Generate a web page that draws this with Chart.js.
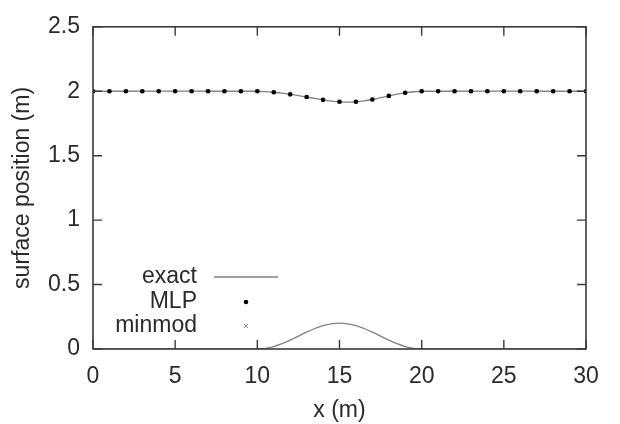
<!DOCTYPE html>
<html>
<head>
<meta charset="utf-8">
<script src="https://cdn.jsdelivr.net/npm/chart.js@4.4.1/dist/chart.umd.min.js"></script>
<style>
  html, body { margin: 0; padding: 0; background: #fff; }
  canvas { display: block; }
</style>
</head>
<body>
<canvas id="surfaceChart" width="620" height="424"></canvas>
<script>
'use strict'

// exact free surface (m)
const exactX = [0, 10, 10.5, 11, 11.5, 12, 12.5, 13, 13.5, 14, 14.5, 15, 15.5, 16, 16.5, 17, 17.5, 18, 18.5, 19, 19.5, 20, 30]
const exactY = [2.0, 2.0, 1.997, 1.992, 1.985, 1.976, 1.966, 1.955, 1.944, 1.933, 1.924, 1.918, 1.916, 1.918, 1.925, 1.936, 1.95, 1.964, 1.977, 1.988, 1.996, 2.0, 2.0]

// bed bump (m)
const bedX = [0, 10, 10.5, 11, 11.5, 12, 12.5, 13, 13.5, 14, 14.5, 15, 15.5, 16, 16.5, 17, 17.5, 18, 18.5, 19, 19.5, 20, 30]
const bedY = [0, 0, 0.005, 0.019, 0.041, 0.069, 0.1, 0.131, 0.159, 0.181, 0.195, 0.2, 0.195, 0.181, 0.159, 0.131, 0.1, 0.069, 0.041, 0.019, 0.005, 0, 0]

// computed results at cell centres
const cellX = [0, 1, 2, 3, 4, 5, 6, 7, 8, 9, 10, 11, 12, 13, 14, 15, 16, 17, 18, 19, 20, 21, 22, 23, 24, 25, 26, 27, 28, 29, 30]
const mlpY = [2, 2, 2, 2, 2, 2, 2, 2, 2, 2, 2.0, 1.992, 1.976, 1.955, 1.933, 1.918, 1.918, 1.936, 1.964, 1.988, 2.0, 2, 2, 2, 2, 2, 2, 2, 2, 2, 2]
const minmodY = [2, 2, 2, 2, 2, 2, 2, 2, 2, 2, 2.0, 1.992, 1.976, 1.955, 1.933, 1.918, 1.918, 1.936, 1.964, 1.988, 2.0, 2, 2, 2, 2, 2, 2, 2, 2, 2, 2]

const xTicks = [0, 5, 10, 15, 20, 25, 30]
const yTicks = [0, 0.5, 1, 1.5, 2, 2.5]

const legendItems = ['exact', 'MLP', 'minmod']

const FONT = '"Liberation Sans", Arial, sans-serif'
const TEXT = '#2a2a2a'
const LINE = '#808080'

const pts = (xs, ys) => xs.map((x, i) => ({x: x, y: ys[i]}))

// gnuplot style frame with inward (mirrored) ticks
const framePlugin = {
    id: 'frame',
    afterDatasetsDraw(chart) {
        const {ctx, chartArea: a, scales} = chart
        const len = 9
        ctx.save()
        ctx.strokeStyle = '#3a3a3a'
        ctx.lineWidth = 1.6
        ctx.strokeRect(a.left, a.top, a.right - a.left, a.bottom - a.top)
        ctx.lineWidth = 1.4
        ctx.beginPath()
        xTicks.forEach(v => {
            const px = scales.x.getPixelForValue(v)
            ctx.moveTo(px, a.bottom); ctx.lineTo(px, a.bottom - len)
            ctx.moveTo(px, a.top); ctx.lineTo(px, a.top + len)
        })
        yTicks.forEach(v => {
            const py = scales.y.getPixelForValue(v)
            ctx.moveTo(a.left, py); ctx.lineTo(a.left + len, py)
            ctx.moveTo(a.right, py); ctx.lineTo(a.right - len, py)
        })
        ctx.stroke()
        ctx.restore()
    }
}

// key inside the plot, text right aligned with sample on its right
const keyPlugin = {
    id: 'key',
    afterDraw(chart) {
        const {ctx} = chart
        const textRight = 197
        const sampleX = 246
        const rows = [277, 302, 326]
        ctx.save()
        ctx.font = '23px ' + FONT
        ctx.fillStyle = TEXT
        ctx.textAlign = 'right'
        ctx.textBaseline = 'middle'
        legendItems.forEach((t, i) => ctx.fillText(t, textRight, rows[i]))
        // exact
        ctx.strokeStyle = LINE
        ctx.lineWidth = 1.3
        ctx.beginPath()
        ctx.moveTo(214, rows[0]); ctx.lineTo(278, rows[0])
        ctx.stroke()
        // MLP
        ctx.fillStyle = '#000'
        ctx.beginPath()
        ctx.arc(sampleX, rows[1], 2.3, 0, Math.PI * 2)
        ctx.fill()
        // minmod
        ctx.strokeStyle = '#8a8a8a'
        ctx.lineWidth = 1
        ctx.beginPath()
        ctx.moveTo(sampleX - 2, rows[2] - 2); ctx.lineTo(sampleX + 2, rows[2] + 2)
        ctx.moveTo(sampleX - 2, rows[2] + 2); ctx.lineTo(sampleX + 2, rows[2] - 2)
        ctx.stroke()
        ctx.restore()
    }
}

const ctx = document.getElementById('surfaceChart')
new Chart(ctx, {
    type: 'scatter',
    data: {
        datasets: [
            {
                label: 'exact',
                data: pts(exactX, exactY),
                showLine: true,
                borderColor: LINE,
                borderWidth: 1.3,
                pointRadius: 0,
                tension: 0.3,
                order: 3
            },
            {
                label: 'bed',
                data: pts(bedX, bedY),
                showLine: true,
                borderColor: LINE,
                borderWidth: 1.3,
                pointRadius: 0,
                tension: 0.3,
                order: 3
            },
            {
                label: 'minmod',
                data: pts(cellX, minmodY),
                pointStyle: 'crossRot',
                pointRadius: 2.5,
                borderColor: '#8a8a8a',
                borderWidth: 1,
                order: 2
            },
            {
                label: 'MLP',
                data: pts(cellX, mlpY),
                pointStyle: 'circle',
                pointRadius: 2.3,
                backgroundColor: '#000',
                borderColor: '#000',
                borderWidth: 0,
                order: 1
            }
        ]
    },
    options: {
        responsive: false,
        animation: false,
        layout: {padding: {left: 0, right: 34, top: 13, bottom: 0}},
        plugins: {
            legend: {display: false},
            tooltip: {enabled: false}
        },
        scales: {
            x: {
                type: 'linear',
                min: 0,
                max: 30,
                afterFit: s => { s.height = 75 },
                afterBuildTicks: s => { s.ticks = xTicks.map(v => ({value: v})) },
                grid: {display: false, drawTicks: false},
                border: {display: false},
                ticks: {color: TEXT, padding: 14, font: {family: FONT, size: 23}, maxRotation: 0, callback: v => String(v)},
                title: {display: true, text: 'x (m)', color: TEXT, padding: {top: 0, bottom: 0}, font: {family: FONT, size: 23}}
            },
            y: {
                type: 'linear',
                min: 0,
                max: 2.5,
                afterFit: s => { s.width = 93 },
                afterBuildTicks: s => { s.ticks = yTicks.map(v => ({value: v})) },
                grid: {display: false, drawTicks: false},
                border: {display: false},
                ticks: {color: TEXT, padding: 13, font: {family: FONT, size: 23}, callback: v => String(v)},
                title: {display: true, text: 'surface position (m)', color: TEXT, padding: {top: 9, bottom: 0}, font: {family: FONT, size: 23}}
            }
        }
    },
    plugins: [framePlugin, keyPlugin]
})
</script>
</body>
</html>
